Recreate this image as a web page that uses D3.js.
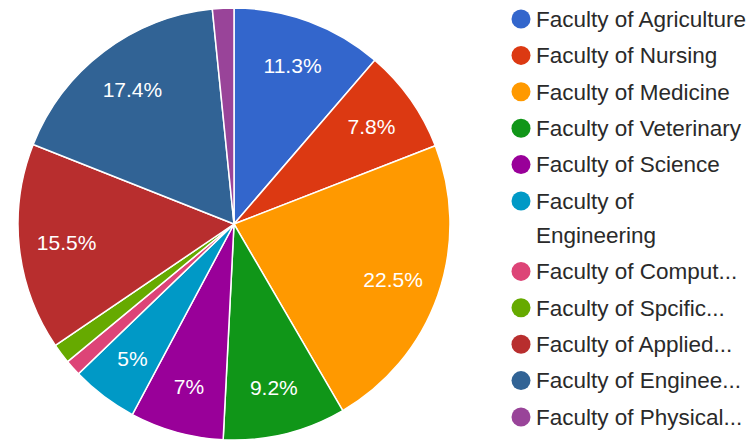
<!DOCTYPE html>
<html>
<head>
<meta charset="utf-8">
<script src="https://cdn.jsdelivr.net/npm/d3@7"></script>
<style>
  body { margin: 0; background: #fff; }
  svg { font-family: Arial, "Liberation Sans", sans-serif; }
</style>
</head>
<body>
<svg id="chart" width="754" height="443"></svg>
<script>
// faculties, in slice order (clockwise from 12 o'clock)
const faculties = [
    "Faculty of Agriculture", "Faculty of Nursing", "Faculty of Medicine",
    "Faculty of Veterinary", "Faculty of Science", "Faculty of Engineering",
    "Faculty of Comput...", "Faculty of Spcific...", "Faculty of Applied...",
    "Faculty of Enginee...", "Faculty of Physical..."
];
const shares = [11.3, 7.8, 22.5, 9.2, 7, 5, 1.2, 1.5, 15.5, 17.4, 1.6];
const colors = ["#3366cc", "#dc3912", "#ff9900", "#109618", "#990099", "#0099c6",
                "#dd4477", "#66aa00", "#b82e2e", "#316395", "#994499"];

const data = faculties.map((name, i) => ({name: name, value: shares[i], color: colors[i]}));

const svg = d3.select("#chart");
const cx = 234, cy = 224, radius = 216;

const pie = d3.pie().sort(null).value(d => d.value);
const arc = d3.arc().innerRadius(0).outerRadius(radius);
const labelArc = d3.arc().innerRadius(radius * 0.78).outerRadius(radius * 0.78);

const g = svg.append("g").attr("transform", "translate(" + cx + "," + cy + ")");

const arcs = pie(data);

g.selectAll("path.slice")
    .data(arcs)
    .enter()
    .append("path")
    .attr("class", "slice")
    .attr("d", arc)
    .attr("fill", d => d.data.color)
    .attr("stroke", "#fff")
    .attr("stroke-width", 1.5);

// percentage labels only on the bigger slices
g.selectAll("text.pct")
    .data(arcs.filter(d => d.data.value >= 5))
    .enter()
    .append("text")
    .attr("class", "pct")
    .attr("transform", d => "translate(" + labelArc.centroid(d) + ")")
    .attr("text-anchor", "middle")
    .attr("dy", "0.35em")
    .style("font-size", "21px")
    .style("fill", "#fff")
    .text(d => d.data.value + "%");

// legend
const legend = svg.append("g").attr("transform", "translate(521,19)");
const rowH = 36.4;
let yPos = 0;
data.forEach(d => {
    const row = legend.append("g").attr("transform", "translate(0," + yPos + ")");
    row.append("circle").attr("r", 9.5).attr("fill", d.color);
    const lines = d.name === "Faculty of Engineering" ? ["Faculty of", "Engineering"] : [d.name];
    lines.forEach((t, j) => {
        row.append("text")
            .attr("x", 15)
            .attr("y", j * 34)
            .attr("dy", "0.35em")
            .style("font-size", "22.5px")
            .style("fill", "#2a2a2a")
            .text(t);
    });
    yPos += rowH + (lines.length - 1) * 34;
});
</script>
</body>
</html>
